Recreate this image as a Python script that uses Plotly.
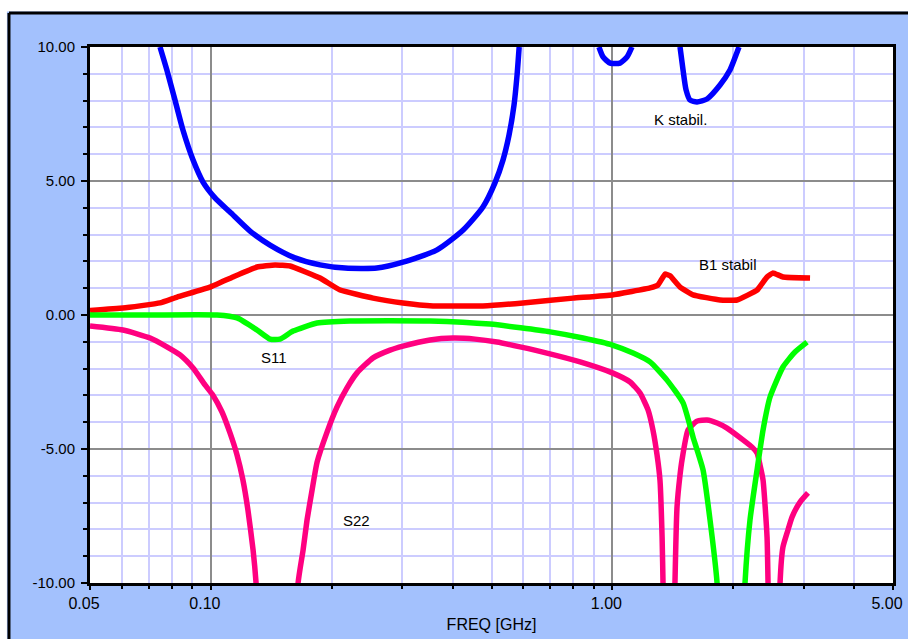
import math
import plotly.graph_objects as go

# ---- data (frequency in GHz, value in dB / factor) ----
k_freq_1 = [0.0747, 0.0777, 0.0814, 0.0852, 0.0903, 0.0956, 0.1024, 0.1116, 0.1252, 0.1404,
            0.162, 0.187, 0.216, 0.259, 0.301, 0.366, 0.425, 0.476, 0.510, 0.534, 0.553,
            0.569, 0.579, 0.586]
k_val_1 = [10.0, 9.14, 8.02, 6.90, 5.78, 4.96, 4.37, 3.84, 3.13, 2.61,
           2.13, 1.87, 1.75, 1.75, 1.97, 2.43, 3.17, 4.03, 4.93, 5.78, 6.72,
           7.84, 8.96, 10.0]
k_freq_2 = [0.926, 0.948, 0.987, 1.045, 1.088, 1.119]
k_val_2 = [10.0, 9.63, 9.40, 9.40, 9.63, 10.0]
k_freq_3 = [1.474, 1.500, 1.526, 1.561, 1.625, 1.721, 1.854, 1.963, 2.032, 2.067]
k_val_3 = [10.0, 9.14, 8.40, 8.02, 7.95, 8.06, 8.58, 9.14, 9.70, 10.0]

b1_freq = [0.05, 0.0604, 0.0747, 0.0824, 0.0995, 0.1135, 0.1303, 0.1445, 0.1575, 0.187,
           0.2098, 0.2535, 0.301, 0.3575, 0.476, 0.599, 0.798, 1.0, 1.241, 1.299,
           1.353, 1.392, 1.474, 1.588, 1.854, 2.044, 2.293, 2.428, 2.513, 2.660, 3.107]
b1_val = [0.17, 0.26, 0.45, 0.67, 1.04, 1.42, 1.79, 1.87, 1.83, 1.38,
          0.93, 0.63, 0.45, 0.34, 0.34, 0.45, 0.63, 0.75, 1.01, 1.12,
          1.53, 1.46, 1.04, 0.75, 0.56, 0.56, 0.93, 1.42, 1.57, 1.42, 1.38]

s11_freq = [0.05, 0.0706, 0.1036, 0.1162, 0.1303, 0.1404, 0.1487, 0.1602, 0.1839, 0.2221,
            0.3514, 0.4958, 0.700, 0.845, 1.0, 1.126, 1.241, 1.368, 1.500, 1.588,
            1.682, 1.751, 1.823, 1.975, 2.140, 2.202, 2.293, 2.373, 2.470, 2.660,
            2.850, 3.054]
s11_val = [0.0, 0.0, 0.0, -0.11, -0.56, -0.90, -0.90, -0.60, -0.30, -0.22,
           -0.22, -0.34, -0.63, -0.86, -1.12, -1.42, -1.75, -2.43, -3.28, -4.55,
           -5.78, -7.65, -10.0, -25.0, -10.0, -7.65, -5.78, -4.29, -3.06, -1.94,
           -1.38, -1.01]

s22_freq = [0.05, 0.0604, 0.0706, 0.0777, 0.0838, 0.0903, 0.0967, 0.1012, 0.1066, 0.1116,
            0.1162, 0.1202, 0.1237, 0.1274, 0.1296, 0.1462, 0.1649, 0.1697, 0.1736, 0.1787,
            0.1839, 0.1947, 0.2062, 0.2183, 0.2312, 0.2535, 0.2794, 0.301, 0.3514, 0.401,
            0.4549, 0.516, 0.589, 0.687, 0.831, 1.0, 1.107, 1.172, 1.227, 1.262,
            1.292, 1.314, 1.330, 1.337, 1.384, 1.432, 1.449, 1.474, 1.491, 1.543,
            1.625, 1.721, 1.823, 1.930, 2.115, 2.228, 2.293, 2.332, 2.373, 2.428,
            2.442, 2.527, 2.616, 2.660, 2.738, 2.802, 2.934, 3.071]
s22_val = [-0.41, -0.56, -0.86, -1.19, -1.49, -1.98, -2.61, -2.99, -3.62, -4.40,
           -5.22, -6.16, -7.28, -8.77, -10.0, -25.0, -10.0, -8.77, -7.65, -6.53,
           -5.49, -4.37, -3.43, -2.72, -2.16, -1.60, -1.31, -1.16, -0.93, -0.86,
           -0.90, -1.01, -1.19, -1.42, -1.75, -2.16, -2.50, -2.91, -3.54, -4.29,
           -5.22, -6.16, -8.28, -10.0, -25.0, -10.0, -7.16, -5.97, -5.41, -4.29,
           -3.96, -3.92, -4.03, -4.22, -4.66, -4.93, -5.15, -5.60, -6.16, -8.28,
           -10.0, -25.0, -10.0, -8.66, -8.02, -7.54, -6.98, -6.64]

x_tick_vals = [0.05, 0.1, 1.0, 5.0]
x_tick_text = ["0.05", "0.10", "1.00", "5.00"]
x_minor_vals = [0.06, 0.07, 0.08, 0.09, 0.2, 0.3, 0.4, 0.5, 0.6, 0.7, 0.8, 0.9, 2, 3, 4]
y_tick_vals = [-10, -5, 0, 5, 10]
y_tick_text = ["-10.00", "-5.00", "0.00", "5.00", "10.00"]
y_minor_vals = [-9, -8, -7, -6, -4, -3, -2, -1, 1, 2, 3, 4, 6, 7, 8, 9]

labels_text = ["K stabil.", "B1 stabil", "S11", "S22"]
labels_x = [1.48, 1.94, 0.1436, 0.230]
labels_y = [7.28, 1.87, -1.57, -7.65]

# ---- figure ----
BLUE_BG = "#a3c1fd"
FONT = "Liberation Sans, Arial, sans-serif"
LW = 5.5

fig = go.Figure()

k_freq = k_freq_1 + [None] + k_freq_2 + [None] + k_freq_3
k_val = k_val_1 + [None] + k_val_2 + [None] + k_val_3

fig.add_trace(go.Scatter(x=k_freq, y=k_val, mode="lines", name="K stabil.",
                         line=dict(color="#0000ff", width=LW, shape="spline", smoothing=0.6),
                         connectgaps=False))
fig.add_trace(go.Scatter(x=b1_freq, y=b1_val, mode="lines", name="B1 stabil",
                         line=dict(color="#ff0000", width=LW, shape="spline", smoothing=0.3)))
fig.add_trace(go.Scatter(x=s22_freq, y=s22_val, mode="lines", name="S22",
                         line=dict(color="#ff0080", width=LW, shape="spline", smoothing=0.5)))
fig.add_trace(go.Scatter(x=s11_freq, y=s11_val, mode="lines", name="S11",
                         line=dict(color="#00ff00", width=LW, shape="spline", smoothing=0.5)))

for t, xv, yv in zip(labels_text, labels_x, labels_y):
    fig.add_annotation(x=math.log10(xv), y=yv, xref="x", yref="y", text=t, showarrow=False,
                       font=dict(family=FONT, size=15, color="#000000"))

# outer black frame line on top / left (area outside it stays white)
shapes = [
    dict(type="rect", xref="paper", yref="paper", x0=-0.3, x1=1.2, y0=1.066, y1=1.3,
         fillcolor="#ffffff", line=dict(width=0), layer="below"),
    dict(type="rect", xref="paper", yref="paper", x0=-0.3, x1=-0.1035, y0=-0.3, y1=1.3,
         fillcolor="#ffffff", line=dict(width=0), layer="below"),
    dict(type="line", xref="paper", yref="paper", x0=-0.1009, x1=1.2, y0=1.0634, y1=1.0634,
         line=dict(color="#000000", width=3)),
    dict(type="line", xref="paper", yref="paper", x0=-0.1009, x1=-0.1009, y0=-0.3, y1=1.0634,
         line=dict(color="#000000", width=3)),
]

fig.update_layout(
    width=908, height=639,
    margin=dict(l=90, r=15, t=47, b=56, autoexpand=False),
    paper_bgcolor=BLUE_BG,
    plot_bgcolor="#ffffff",
    showlegend=False,
    shapes=shapes,
    font=dict(family=FONT, size=15, color="#000000"),
)

fig.update_xaxes(
    type="log", range=[-1.30103, 0.69897],
    tickmode="array", tickvals=x_tick_vals, ticktext=x_tick_text,
    ticks="outside", ticklen=4, tickwidth=2, tickcolor="#000000",
    showgrid=True, gridcolor="#8c8c8c", gridwidth=2,
    minor=dict(tickmode="array", tickvals=x_minor_vals, showgrid=True,
               gridcolor="#ccccff", gridwidth=2, ticks="outside", ticklen=3,
               tickcolor="#000000", tickwidth=2),
    showline=True, linecolor="#000000", linewidth=3, mirror=True,
    zeroline=False, automargin=False, ticklabelshift=-6,
    title=dict(text="FREQ [GHz]", font=dict(family=FONT, size=16), standoff=8),
    tickfont=dict(family=FONT, size=16, color="#000000"),
)
fig.update_yaxes(
    range=[-10, 10],
    tickmode="array", tickvals=y_tick_vals, ticktext=y_tick_text,
    ticks="outside", ticklen=6, tickwidth=2, tickcolor="#000000",
    showgrid=True, gridcolor="#8c8c8c", gridwidth=2,
    minor=dict(tickmode="array", tickvals=y_minor_vals, showgrid=True,
               gridcolor="#ccccff", gridwidth=2, ticks="outside", ticklen=4,
               tickcolor="#000000", tickwidth=2),
    showline=True, linecolor="#000000", linewidth=3, mirror=True,
    zeroline=False, automargin=False, ticklabelstandoff=3,
    tickfont=dict(family=FONT, size=15, color="#000000"),
)

fig.write_html("out.html", config={"displayModeBar": False},
               post_script="document.body.style.margin='0px';")
